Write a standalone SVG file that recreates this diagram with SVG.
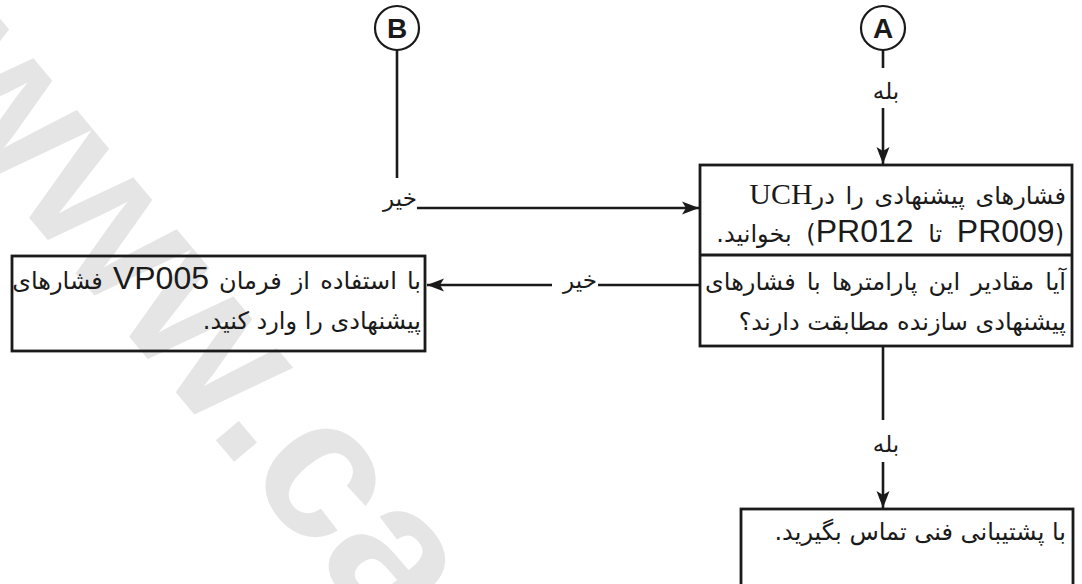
<svg xmlns="http://www.w3.org/2000/svg" width="1082" height="584" viewBox="0 0 1082 584">
<style>
.box{fill:none;stroke:#1a1a1a;stroke-width:2.8}
.ln{fill:none;stroke:#1a1a1a;stroke-width:2.6}
.fa{font-family:"DejaVu Sans",sans-serif;font-size:24px;fill:#1a1a1a}
.lat{font-family:"Liberation Sans",Arial,sans-serif;font-size:32px}
.ser{font-family:"Liberation Serif","Times New Roman",serif;font-size:30px}
.lbl{font-family:"DejaVu Sans",sans-serif;font-size:23px;fill:#1a1a1a}
.circ{fill:#fff;stroke:#1a1a1a;stroke-width:2.2}
.cl{font-family:"Liberation Sans",Arial,sans-serif;font-size:28px;font-weight:bold;fill:#1a1a1a}
.wm{font-family:"Liberation Sans",Arial,sans-serif;font-weight:bold;font-size:200px;fill:#e5e5e5}
</style>
<defs>
<marker id="arr" markerUnits="userSpaceOnUse" markerWidth="18" markerHeight="14" refX="17" refY="7" orient="auto">
<path d="M0,0.5 L17,7 L0,13.5 L4,7 z" fill="#1a1a1a"/>
</marker>
</defs>
<rect width="1082" height="584" fill="#fff"/>
<g id="watermark">
<text class="wm" transform="translate(-88,78) rotate(50)">www.ca</text>
</g>
<g id="connectors">
<path class="ln" d="M397,50 V178"/>
<path class="ln" d="M417,208 H699" marker-end="url(#arr)"/>
<path class="ln" d="M883,50 V68"/>
<path class="ln" d="M883,108 V164" marker-end="url(#arr)"/>
<path class="ln" d="M700,285 H598"/>
<path class="ln" d="M552,285 H427" marker-end="url(#arr)"/>
<path class="ln" d="M883,346 V420"/>
<path class="ln" d="M883,462 V508" marker-end="url(#arr)"/>
<text class="lbl" x="400" y="206" text-anchor="middle" direction="rtl">خیر</text>
<text class="lbl" x="886" y="99" text-anchor="middle" direction="rtl">بله</text>
<text class="lbl" x="580" y="288" text-anchor="middle" direction="rtl">خیر</text>
<text class="lbl" x="886" y="452" text-anchor="middle" direction="rtl">بله</text>
</g>
<g id="node-B">
<circle class="circ" cx="397" cy="28" r="22"/>
<text class="cl" x="397" y="38" text-anchor="middle">B</text>
</g>
<g id="node-A">
<circle class="circ" cx="883" cy="28" r="22"/>
<text class="cl" x="883" y="38" text-anchor="middle">A</text>
</g>
<g id="node-read">
<rect class="box" x="700" y="165" width="372" height="181"/>
<path class="box" d="M700,255 H1072"/>
<text class="fa" x="1066" y="204" direction="rtl" text-anchor="start" word-spacing="3">فشارهای پیشنهادی را در<tspan class="ser">UCH</tspan></text>
<text class="fa" x="1064" y="242" direction="rtl" text-anchor="start" word-spacing="7">(<tspan class="lat">PR009</tspan> تا <tspan class="lat">PR012</tspan>) بخوانید.</text>
<text class="fa" x="1066" y="290" direction="rtl" text-anchor="start" word-spacing="3.5">آیا مقادیر این پارامترها با فشارهای</text>
<text class="fa" x="1066" y="330" direction="rtl" text-anchor="start">پیشنهادی سازنده مطابقت دارند؟</text>
</g>
<g id="node-enter">
<rect class="box" x="12" y="256" width="413" height="95"/>
<text class="fa" x="421" y="289" direction="rtl" text-anchor="start" word-spacing="2.5">با استفاده از فرمان <tspan class="lat">VP005</tspan> فشارهای</text>
<text class="fa" x="421" y="329" direction="rtl" text-anchor="start">پیشنهادی را وارد کنید.</text>
</g>
<g id="node-support">
<rect class="box" x="741" y="509" width="332" height="100"/>
<text class="fa" x="1066" y="540" direction="rtl" text-anchor="start">با پشتیبانی فنی تماس بگیرید.</text>
</g>
</svg>
